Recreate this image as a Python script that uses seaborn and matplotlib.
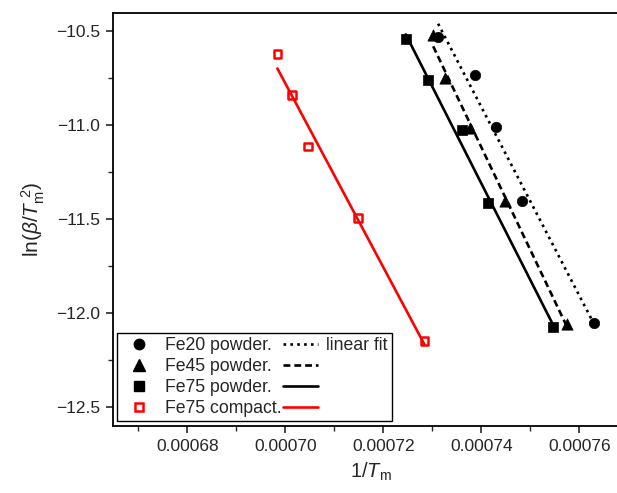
import numpy as np
import pandas as pd
import seaborn as sns
import matplotlib.pyplot as plt
from matplotlib.lines import Line2D
from matplotlib.ticker import MultipleLocator

sns.set_style("ticks")
plt.rcParams['font.family'] = ['Liberation Sans', 'DejaVu Sans']
plt.rcParams['mathtext.fontset'] = 'custom'
plt.rcParams['mathtext.rm'] = 'Liberation Sans'
plt.rcParams['mathtext.it'] = 'Liberation Sans:italic'

# Data: 1/Tm and ln(beta/Tm^2)
fe20_x = [0.0007312, 0.0007387, 0.0007430, 0.0007484, 0.0007630]
fe20_y = [-10.530, -10.736, -11.009, -11.403, -12.055]
fe45_x = [0.0007302, 0.0007326, 0.0007378, 0.0007449, 0.0007576]
fe45_y = [-10.521, -10.752, -11.018, -11.403, -12.059]
fe75_x = [0.0007246, 0.0007292, 0.0007360, 0.0007414, 0.0007547]
fe75_y = [-10.544, -10.761, -11.027, -11.417, -12.073]
comp_x = [0.0006984, 0.0007014, 0.0007047, 0.0007148, 0.0007284]
comp_y = [-10.622, -10.840, -11.115, -11.493, -12.149]

labels = ["Fe20 powder.", "Fe45 powder.", "Fe75 powder.", "Fe75 compact."]

DOT = (0, (1, 1.6))
DASH = (0, (2.6, 1.5))
LW = 1.9

fig = plt.figure(figsize=(6.17, 4.93), dpi=100)
ax = fig.add_axes([0.183, 0.1359, 0.836, 0.8377])

series = [
    (fe20_x, fe20_y, 'o', 56, 'black', 'black', DOT),
    (fe45_x, fe45_y, '^', 66, 'black', 'black', DASH),
    (fe75_x, fe75_y, 's', 42, 'black', 'black', '-'),
    (comp_x, comp_y, 's', 30, 'none', 'red', '-'),
]

for (xs, ys, mk, sz, fc, ec, ls) in series:
    df = pd.DataFrame({'x': xs, 'y': ys})
    lc = 'red' if ec == 'red' else 'black'
    sns.regplot(data=df, x='x', y='y', scatter=False, ci=None, truncate=True,
                ax=ax, line_kws=dict(color=lc, lw=LW, ls=ls, zorder=2))
    ax.scatter(df['x'], df['y'], marker=mk, s=sz, facecolors=fc,
               edgecolors=ec, linewidths=1.8 if fc == 'none' else 0.5, zorder=3)

ax.set_xlim(0.00066484, 0.0007701)
ax.set_ylim(-12.601, -10.404)
ax.xaxis.set_major_locator(MultipleLocator(0.00002))
ax.xaxis.set_minor_locator(MultipleLocator(0.00001))
ax.yaxis.set_major_locator(MultipleLocator(0.5))
ax.yaxis.set_minor_locator(MultipleLocator(0.25))
ax.xaxis.set_major_formatter(plt.FuncFormatter(lambda v, p: f"{v:.5f}"))
ax.tick_params(which='major', length=5, width=1.2, labelsize=12.5, pad=4)
ax.tick_params(which='minor', length=3.5, width=1.0)
for s in ax.spines.values():
    s.set_linewidth(1.3)
    s.set_color('black')

ax.set_xlabel(r"1/$T_\mathrm{m}$", fontsize=14.5, labelpad=5)
ax.set_ylabel(r"ln($\beta$/$T_\mathrm{m}^{\ 2}$)", fontsize=15, labelpad=7)

# Legend: markers with sample names, then line styles with "linear fit"
mk_handles = [
    Line2D([], [], ls='none', marker='o', ms=7.5, color='black'),
    Line2D([], [], ls='none', marker='^', ms=8, color='black'),
    Line2D([], [], ls='none', marker='s', ms=6.5, color='black'),
    Line2D([], [], ls='none', marker='s', ms=5.5, mfc='none', mec='red', mew=1.8),
]
ln_handles = [
    Line2D([], [], color='black', ls=DOT, lw=LW),
    Line2D([], [], color='black', ls=DASH, lw=LW),
    Line2D([], [], color='black', ls='-', lw=LW),
    Line2D([], [], color='red', ls='-', lw=LW),
]
leg = ax.legend(mk_handles + ln_handles, labels + ["linear fit", "", "", ""],
                ncol=2, loc='lower left', bbox_to_anchor=(0.008, 0.011),
                fontsize=12.7, frameon=True, fancybox=False, framealpha=1,
                edgecolor='black', borderpad=0.25, labelspacing=0.22,
                handlelength=2.0, handletextpad=0.45, columnspacing=0.1,
                borderaxespad=0)
leg.get_frame().set_linewidth(1.0)

fig.savefig("out.png", dpi=100)
